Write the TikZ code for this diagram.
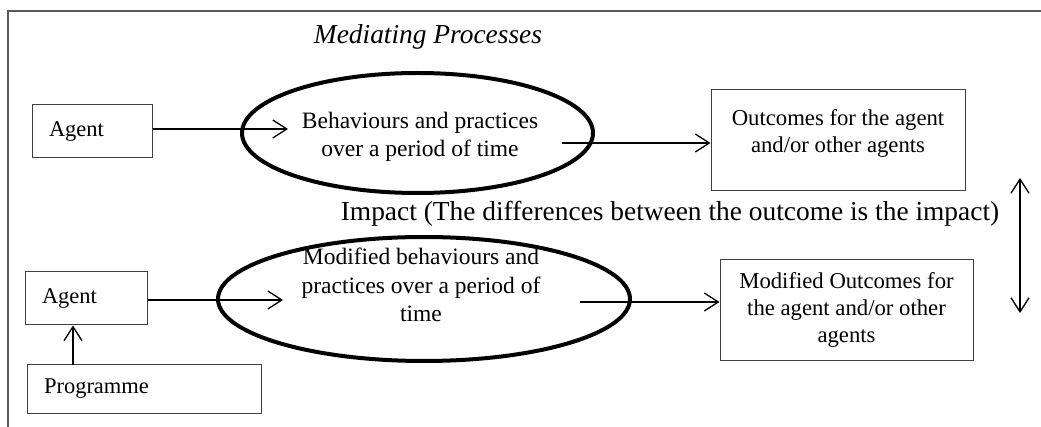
\documentclass[tikz,border=0pt]{standalone}
\usepackage{fontspec}
\setmainfont{Liberation Serif}
\usetikzlibrary{arrows.meta,shapes.geometric}
\begin{document}
\begin{tikzpicture}[x=1pt,y=-1pt,
  frame/.style={draw=black!65, line width=1.6pt},
  box/.style={draw=black!75, line width=1pt, font=\fontsize{22.5}{27}\selectfont},
  lbox/.style={box, align=left, inner xsep=17pt},
  ebox/.style={box, inner sep=0pt},
  btxt/.style={inner sep=0pt, align=center, font=\fontsize{22.7}{27}\selectfont},
  oval/.style={draw=black, line width=4pt, ellipse, inner sep=0pt},
  otxt/.style={inner sep=0pt, align=center, font=\fontsize{23.5}{28.5}\selectfont},
  arr/.style={line width=1.3pt, -{Straight Barb[length=14pt,width=18pt,line width=1.3pt]}},
  darr/.style={line width=1.3pt, {Straight Barb[length=14pt,width=18pt,line width=1.3pt]}-{Straight Barb[length=14pt,width=18pt,line width=1.3pt]}},
  label/.style={inner sep=0pt}
]
\useasboundingbox (0,0) rectangle (1041,427);
\draw[frame] (1041,11) -- (8,11) -- (8,427);

\node[label, font=\fontsize{27.4}{32}\selectfont\itshape] (mp) at (428,37) {Mediating Processes};

% row 1
\node[lbox, text width=86pt, minimum height=53pt] (a1) at (92,131.5) {Agent};
\node[oval, minimum width=351pt, minimum height=120pt] (e1) at (417.5,133) {};
\node[otxt] (e1t) at (420,137) {Behaviours and practices\\over a period of time};
\node[ebox, minimum width=254pt, minimum height=101pt] (o1) at (838,140.5) {};
\node[btxt] (o1t) at (838,133.5) {Outcomes for the agent\\and/or other agents};

\coordinate (e1in) at (288,129);
\coordinate (e1out) at (562,143);
\draw[arr] (a1.east |- e1in) -- (e1in);
\draw[arr] (e1out) -- (e1out -| o1.west);

\node[label, font=\fontsize{27.4}{32}\selectfont] (imp) at (670,214) {Impact (The differences between the outcome is the impact)};

\coordinate (i1) at (1020,178);
\coordinate (i2) at (1020,313);
\draw[darr] (i1) -- (i2);

% row 2
\node[lbox, text width=88pt, minimum height=53pt] (a2) at (86,298.5) {Agent};
\node[oval, minimum width=412pt, minimum height=124pt] (e2) at (424,299) {};
\node[otxt] (e2t) at (421,285) {Modified behaviours and\\practices over a period of\\time};
\node[ebox, minimum width=253pt, minimum height=101pt] (o2) at (846.5,310) {};
\node[btxt] (o2t) at (846.5,310) {Modified Outcomes for\\the agent and/or other\\agents};
\node[lbox, text width=200pt, minimum height=48pt] (p) at (144,389) {Programme};

\coordinate (e2in) at (283,300);
\coordinate (e2out) at (580,302);
\coordinate (pa) at (73,365);
\draw[arr] (a2.east |- e2in) -- (e2in);
\draw[arr] (e2out) -- (e2out -| o2.west);
\draw[arr] (pa) -- (pa |- a2.south);
\end{tikzpicture}
\end{document}
